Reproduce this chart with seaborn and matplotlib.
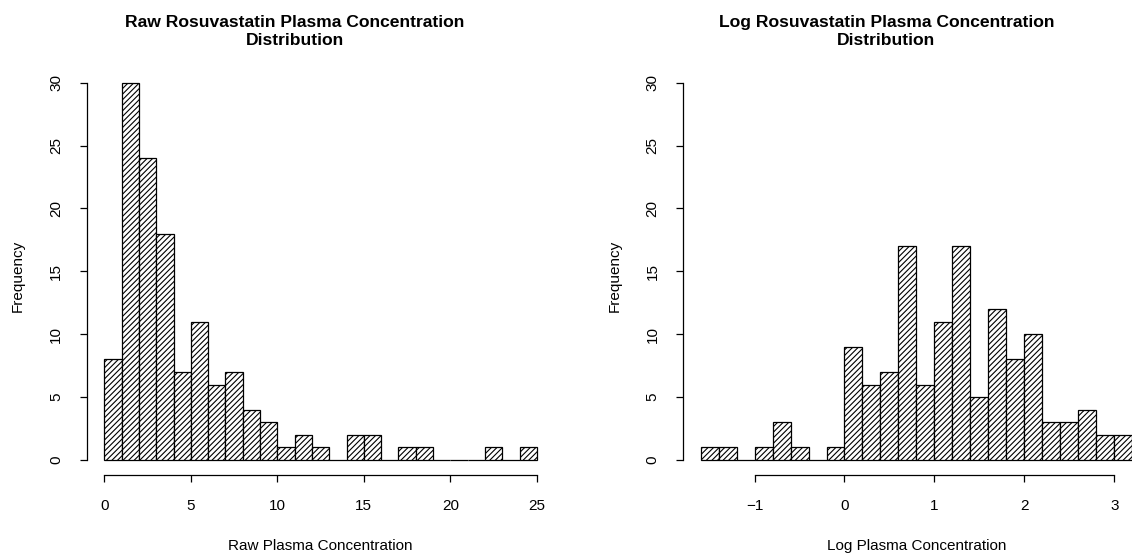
import numpy as np
import pandas as pd
import matplotlib
matplotlib.use("Agg")
import matplotlib.pyplot as plt
import seaborn as sns

# ---- data ----
raw_edges = [0, 1, 2, 3, 4, 5, 6, 7, 8, 9, 10, 11, 12, 13, 14, 15, 16, 17, 18, 19, 20,
             21, 22, 23, 24, 25]
raw_counts = [8, 30, 24, 18, 7, 11, 6, 7, 4, 3, 1, 2, 1, 0, 2, 2, 0, 1, 1, 0, 0, 0, 1, 0, 1]

log_edges = [-1.6, -1.4, -1.2, -1.0, -0.8, -0.6, -0.4, -0.2, 0.0, 0.2, 0.4, 0.6, 0.8,
             1.0, 1.2, 1.4, 1.6, 1.8, 2.0, 2.2, 2.4, 2.6, 2.8, 3.0, 3.2]
log_counts = [1, 1, 0, 1, 3, 1, 0, 1, 9, 6, 7, 17, 6, 11, 17, 5, 12, 8, 10, 3, 3, 4, 2, 2]

raw_xticks = [0, 5, 10, 15, 20, 25]
log_xticks = [-1, 0, 1, 2, 3]
yticks = [0, 5, 10, 15, 20, 25, 30]

titles = ["Raw Rosuvastatin Plasma Concentration\nDistribution",
          "Log Rosuvastatin Plasma Concentration\nDistribution"]
xlabels = ["Raw Plasma Concentration", "Log Plasma Concentration"]
ylabel = "Frequency"

sns.set_style("ticks")
plt.rcParams['font.family'] = ['Liberation Sans', 'DejaVu Sans']
plt.rcParams['hatch.linewidth'] = 0.8
plt.rcParams['hatch.color'] = 'black'
plt.rcParams['text.color'] = 'black'
plt.rcParams['axes.labelcolor'] = 'black'
plt.rcParams['xtick.color'] = 'black'
plt.rcParams['ytick.color'] = 'black'

W, H = 1132, 558
fig = plt.figure(figsize=(W / 100, H / 100), dpi=100)

def px_axes(left, top, right, bottom):
    return [left / W, 1 - bottom / H, (right - left) / W, (bottom - top) / H]

axL = fig.add_axes(px_axes(87.0, 67.6, 554.1, 475.1))
axR = fig.add_axes(px_axes(683.3, 67.6, 1149.6, 475.1))

panels = [
    (axL, raw_edges, raw_counts, raw_xticks, (-1.0, 26.0), 295.0 / W),
    (axR, log_edges, log_counts, log_xticks, (-1.792, 3.392), 886.5 / W),
]

for i, (ax, edges, counts, xt, xlim, tx) in enumerate(panels):
    e = [float(v) for v in edges]
    centers = [(a + b) / 2 for a, b in zip(e[:-1], e[1:])]
    df = pd.DataFrame({"x": centers, "w": [float(c) for c in counts]})
    sns.histplot(data=df, x="x", weights="w", bins=e, ax=ax,
                 color="white", edgecolor="black", linewidth=0.9,
                 hatch="//////", alpha=1.0, fill=True)
    ax.set_xlim(*xlim)
    ax.set_ylim(-1.2, 31.2)
    ax.set_xticks(xt)
    ax.set_xticklabels([("\u2212" + str(-v)) if v < 0 else str(v) for v in xt])
    ax.set_yticks(yticks)
    for s in ["top", "right"]:
        ax.spines[s].set_visible(False)
    ax.spines["left"].set_bounds(0, 30)
    ax.spines["bottom"].set_bounds(xt[0], xt[-1])
    for s in ["left", "bottom"]:
        ax.spines[s].set_linewidth(0.9)
        ax.spines[s].set_color("black")
    ax.tick_params(axis="both", direction="out", length=5.2, width=0.9,
                   colors="black", labelcolor="black", labelsize=11, pad=12)
    ax.tick_params(axis="y", labelrotation=90)
    for lab in ax.get_yticklabels():
        lab.set_va("center")
    ax.set_xlabel(xlabels[i], fontsize=11, color="black")
    ax.set_ylabel(ylabel, fontsize=11, color="black")
    ax.xaxis.set_label_coords(0.5, (475.1 - 546.0) / 407.5)
    ax.xaxis.label.set_va("center")
    ax.yaxis.set_label_coords((18.0 - 87.0) / 467.1 if i == 0 else (615.0 - 683.3) / 466.3, 0.49)
    ax.yaxis.label.set_va("center")
    ax.grid(False)
    fig.text(tx, 1 - 31.5 / H, titles[i], ha="center", va="center", color="black",
             fontsize=12.6, fontweight="bold", linespacing=1.2)

fig.savefig("out.png", dpi=100)
